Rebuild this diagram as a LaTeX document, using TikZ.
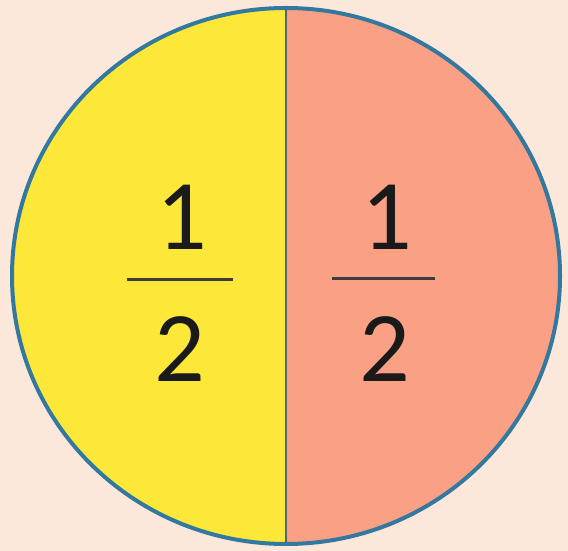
\documentclass[tikz,border=0pt]{standalone}
\usepackage{fontspec}
\setmainfont{Carlito}
\definecolor{bg}{HTML}{FCE8DA}
\definecolor{yel}{HTML}{FDE83A}
\definecolor{sal}{HTML}{F9A085}
\definecolor{rim}{HTML}{33789E}
\definecolor{divc}{HTML}{4F6676}
\definecolor{ink}{HTML}{1A1A1A}
\begin{document}
\begin{tikzpicture}[x=1pt,y=1pt,
  num/.style={font=\fontsize{100}{100}\selectfont, text=ink, inner sep=0pt, anchor=base},
  bar/.style={draw=ink!85, line width=3pt}]
\useasboundingbox (0,0) rectangle (568,551);
\fill[bg] (0,0) rectangle (568,551);
% halves
\fill[yel] (286,7) arc[start angle=270, end angle=90, x radius=274, y radius=268] -- cycle;
\fill[sal] (286,7) arc[start angle=270, end angle=450, x radius=274, y radius=268] -- cycle;
\coordinate (dtop) at (286,543);
\coordinate (dbot) at (286,7);
\draw[divc, line width=1.6pt] (dtop) -- (dbot);
\draw[rim, line width=4pt] (286,275) ellipse[x radius=274, y radius=268];
% left fraction
\node[num] (n1) at (182,301) {1};
\node[num] (d1) at (180,169) {2};
\coordinate (b1l) at (127,271);
\coordinate (b1r) at (233,271);
\draw[bar] (b1l) -- (b1r);
% right fraction
\node[num] (n2) at (387,301) {1};
\node[num] (d2) at (385,169) {2};
\coordinate (b2l) at (332,272);
\coordinate (b2r) at (435,272);
\draw[bar] (b2l) -- (b2r);
\end{tikzpicture}
\end{document}
